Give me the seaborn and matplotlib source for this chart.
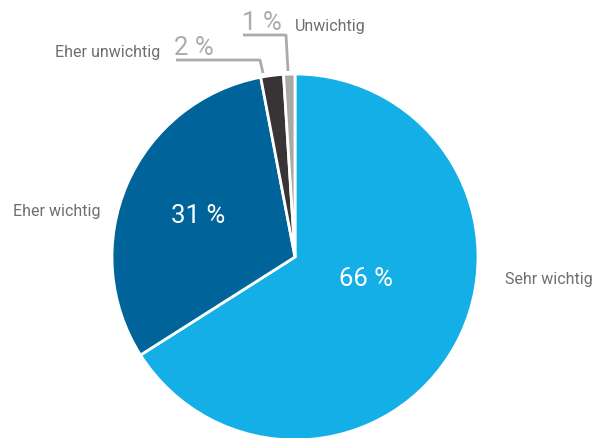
import matplotlib
matplotlib.use("Agg")
import matplotlib.pyplot as plt
import seaborn as sns
import numpy as np

categories = ["Sehr wichtig", "Eher wichtig", "Eher unwichtig", "Unwichtig"]
values = [66, 31, 2, 1]
pct_labels = ["66 %", "31 %", "2 %", "1 %"]
colors = ["#14AFE6", "#00649A", "#383334", "#A9A9A9"]

sns.set_theme(style="white")
plt.rcParams['font.family'] = ['Roboto', 'DejaVu Sans']

W, H = 593, 439
fig = plt.figure(figsize=(W / 100, H / 100), dpi=100)
ax = fig.add_axes([0, 0, 1, 1])

cx, cy, R = 295, 258, 183
wedges, _ = ax.pie(values, colors=colors, startangle=-90, counterclock=True,
                   center=(cx, cy), radius=R, frame=True,
                   wedgeprops=dict(edgecolor="white", linewidth=2))
ax.set_xlim(0, W)
ax.set_ylim(H, 0)
ax.axis("off")

label_col = "#6E6E6E"
line_col = "#ABABAB"

# category labels
ax.text(505, 280, categories[0], ha="left", va="center", fontsize=11.5, color=label_col)
ax.text(13, 212, categories[1], ha="left", va="center", fontsize=11.5, color=label_col)
ax.text(160, 52, categories[2], ha="right", va="center", fontsize=11.5, color=label_col)
ax.text(295, 26, categories[3], ha="left", va="center", fontsize=11.5, color=label_col)

# inner percentage labels
ax.text(366, 279, pct_labels[0], ha="center", va="center", fontsize=18.5, color="white")
ax.text(198, 216, pct_labels[1], ha="center", va="center", fontsize=18.5, color="white")

# outer percentage labels with leader lines
ax.text(174, 48, pct_labels[2], ha="left", va="center", fontsize=18.5, color=line_col)
ax.text(242, 23, pct_labels[3], ha="left", va="center", fontsize=18.5, color=line_col)

ax.plot([263, 260, 176], [74, 61, 61], color=line_col, lw=2, solid_capstyle="butt")
ax.plot([288, 286, 243], [72, 36, 36], color=line_col, lw=2, solid_capstyle="butt")

fig.savefig("out.png", dpi=100)
